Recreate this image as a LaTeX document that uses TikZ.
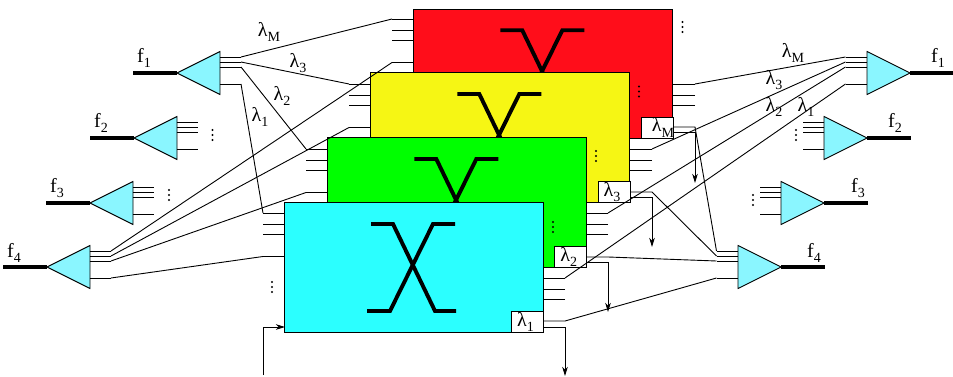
\documentclass[tikz,border=0pt]{standalone}
\usepackage{fontspec}
\setmainfont{Liberation Serif}
\usetikzlibrary{shapes.geometric,arrows.meta}
\definecolor{cred}{HTML}{FF0D1A}
\definecolor{cyel}{HTML}{F6F614}
\definecolor{cgrn}{HTML}{00FF00}
\definecolor{ccya}{HTML}{2BFFFF}
\definecolor{ctri}{HTML}{8AF6FF}
\newcommand{\lab}[2]{#1\raisebox{-0.27em}{\fontsize{14}{14}\selectfont #2}}
\newcommand{\threedots}[2]{\foreach \dd in {-5,0,5}{\fill[black] (#1,#2+\dd) circle (1.2pt);}}
\tikzset{
  thin line/.style={line width=0.9pt,black},
  fibre/.style={line width=3.5pt,black},
  switchbox/.style={draw=black,line width=0.9pt,minimum width=259.5pt,minimum height=129.5pt,inner sep=0pt,outer sep=0pt,anchor=north west},
  lambox/.style={draw=black,fill=white,line width=0.9pt,minimum width=32pt,minimum height=21pt,inner sep=0pt,outer sep=0pt,anchor=south east,font=\fontsize{20}{20}\selectfont},
  tri/.style={draw=black,fill=ctri,line width=0.9pt,isosceles triangle,isosceles triangle stretches,minimum width=43pt,minimum height=43pt,inner sep=0pt,outer sep=0pt,anchor=apex},
  txt/.style={inner sep=0pt,font=\fontsize{20}{20}\selectfont},
  cross/.style={line width=3.9pt,black,line join=miter},
  arr/.style={thin line,-{Stealth[length=9pt,width=5.5pt,inset=2.5pt]}}
}
\begin{document}
\begin{tikzpicture}[x=1pt,y=-1pt]
\useasboundingbox (0,0) rectangle (953,377);
% coordinates for stubs on the switches
\foreach \n/\xl/\xr/\yt/\yo in {R/392/695/19/84, Y/349/652/84/149, G/306/608/149/213, C/263/565/213/278}{
  \pgfmathsetmacro{\xli}{\xl+21.5}\pgfmathsetmacro{\xri}{\xr-22}
  \pgfmathsetmacro{\ya}{\yt}\pgfmathsetmacro{\yb}{\yt+11}\pgfmathsetmacro{\yc}{\yt+21.5}\pgfmathsetmacro{\yd}{\yt+43.5}
  \pgfmathsetmacro{\ye}{\yo}\pgfmathsetmacro{\yf}{\yo+11}\pgfmathsetmacro{\yg}{\yo+21.5}
  \coordinate (\n a) at (\xl,\ya); \coordinate (\n ai) at (\xli,\ya);
  \coordinate (\n b) at (\xl,\yb); \coordinate (\n bi) at (\xli,\yb);
  \coordinate (\n c) at (\xl,\yc); \coordinate (\n ci) at (\xli,\yc);
  \coordinate (\n d) at (\xl,\yd); \coordinate (\n di) at (\xli,\yd);
  \coordinate (\n e) at (\xr,\ye); \coordinate (\n ei) at (\xri,\ye);
  \coordinate (\n f) at (\xr,\yf); \coordinate (\n fi) at (\xri,\yf);
  \coordinate (\n g) at (\xr,\yg); \coordinate (\n gi) at (\xri,\yg);
}
% switch layers, back to front
\foreach \n/\col/\dx/\dy/\lx/\ly/\dotx/\doty/\lam/\off in {
  R/cred/129.3/-193.7/673/138/682.5/27/M/12,
  Y/cyel/86.3/-130/630/202.5/639/91.5/3/-4,
  G/cgrn/43.3/-65/586.7/267.5/596/156/2/-4,
  C/ccya/0/0/543.5/332.2/553/227/1/-4}{
  \pgfmathsetmacro{\bx}{284+\dx}\pgfmathsetmacro{\by}{202.7+\dy}
  \node[switchbox,fill=\col] (box\n) at (\bx,\by) {};
  \begin{scope}[shift={(\dx,\dy)}]
    \draw[cross] (371,224) -- (393,224) -- (435,311) -- (456,311);
    \draw[cross] (367,311) -- (390,311) -- (433,224) -- (455,224);
  \end{scope}
  \draw[thin line] (\n a) -- (\n ai) (\n b) -- (\n bi) (\n c) -- (\n ci) (\n d) -- (\n di);
  \draw[thin line] (\n e) -- (\n ei) (\n f) -- (\n fi) (\n g) -- (\n gi);
  \node[lambox] (lam\n) at (\lx,\ly) {\makebox[0pt]{\hspace{\off pt}\lab{λ}{\lam}}};
  \threedots{\dotx}{\doty}
}
\threedots{272}{287}
% left demultiplexers
\foreach \n/\tx/\ty/\lx/\ly in {1/177/73/144/58, 2/134/138/101/123, 3/90/203/57/188, 4/47/267/14/253}{
  \node[tri,shape border rotate=180] (L\n) at (\tx,\ty) {};
  \pgfmathsetmacro{\bx}{\tx+42.5}\pgfmathsetmacro{\ox}{\tx+64}
  \pgfmathsetmacro{\ya}{\ty-16}\pgfmathsetmacro{\yb}{\ty-11}\pgfmathsetmacro{\yc}{\ty-6}\pgfmathsetmacro{\yd}{\ty+11}
  \coordinate (L\n a) at (\ox,\ya); \coordinate (L\n b) at (\ox,\yb);
  \coordinate (L\n c) at (\ox,\yc); \coordinate (L\n d) at (\ox,\yd);
  \draw[thin line] (\bx,\ya) -- (L\n a) (\bx,\yb) -- (L\n b) (\bx,\yc) -- (L\n c) (\bx,\yd) -- (L\n d);
  \pgfmathsetmacro{\ex}{\tx-44}
  \coordinate (L\n end) at (\ex,\ty);
  \draw[fibre] (L\n.apex) -- (L\n end);
  \node[txt] (Lt\n) at (\lx,\ly) {\lab{f}{\n}};
}
% right multiplexers
\foreach \n/\tx/\ty/\lx/\ly in {1/910/73/938/58, 2/867/138/895/123, 3/824/203/858/188, 4/781/267/814/253}{
  \node[tri,shape border rotate=0] (P\n) at (\tx,\ty) {};
  \pgfmathsetmacro{\bx}{\tx-43}\pgfmathsetmacro{\ox}{\tx-64.5}
  \pgfmathsetmacro{\ya}{\ty-16}\pgfmathsetmacro{\yb}{\ty-11}\pgfmathsetmacro{\yc}{\ty-6}\pgfmathsetmacro{\yd}{\ty+11}
  \coordinate (P\n a) at (\ox,\ya); \coordinate (P\n b) at (\ox,\yb);
  \coordinate (P\n c) at (\ox,\yc); \coordinate (P\n d) at (\ox,\yd);
  \draw[thin line] (\bx,\ya) -- (P\n a) (\bx,\yb) -- (P\n b) (\bx,\yc) -- (P\n c) (\bx,\yd) -- (P\n d);
  \pgfmathsetmacro{\ex}{\tx+44}
  \coordinate (P\n end) at (\ex,\ty);
  \draw[fibre] (P\n.apex) -- (P\n end);
  \node[txt] (Pt\n) at (\lx,\ly) {\lab{f}{\n}};
}
\threedots{212.5}{135}
\threedots{169}{195}
\threedots{796}{135}
\threedots{753}{200}
% connectors, left side
\draw[thin line] (L1a) -- (Ra) (L1b) -- (Ya) (L1c) -- (Ga) (L1d) -- (Ca);
\draw[thin line] (L4a) -- (Rd) (L4b) -- (Yd) (L4c) -- (Gd) (L4d) -- (Cd);
% connectors, right side
\draw[thin line] (Re) -- (P1a) (Ye) -- (P1b) (Ge) -- (P1c) (Ce) -- (P1d);
% outputs of the lambda boxes
\coordinate (MA) at (673,127); \coordinate (MB) at (695,127);
\coordinate (MC) at (673,132); \coordinate (MD) at (695,132); \coordinate (ME) at (695,183);
\coordinate (TA) at (630,192); \coordinate (TB) at (652,192);
\coordinate (TC) at (630,197); \coordinate (TD) at (652,197); \coordinate (TE) at (652,247);
\coordinate (UA) at (586,257); \coordinate (UB) at (608,257);
\coordinate (UC) at (586,262); \coordinate (UD) at (608,262); \coordinate (UE) at (608,312);
\coordinate (VA) at (543,321); \coordinate (VB) at (565,321);
\coordinate (VC) at (543,327); \coordinate (VD) at (565,327); \coordinate (VE) at (565,376);
\draw[thin line] (MA) -- (MB) -- (P4a);
\draw[thin line] (TA) -- (TB) -- (P4b);
\draw[thin line] (UA) -- (UB) -- (P4c);
\draw[thin line] (VA) -- (VB) -- (P4d);
\draw[arr] (MC) -- (MD) -- (ME);
\draw[arr] (TC) -- (TD) -- (TE);
\draw[arr] (UC) -- (UD) -- (UE);
\draw[arr] (VC) -- (VD) -- (VE);
% control input
\coordinate (IA) at (263,375); \coordinate (IB) at (263,327); \coordinate (IC) at (285,327);
\draw[arr] (IA) -- (IB) -- (IC);
% wavelength labels
\node[txt] (a1) at (269,32) {\lab{λ}{M}};
\node[txt] (a2) at (298,63) {\lab{λ}{3}};
\node[txt] (a3) at (282,96) {\lab{λ}{2}};
\node[txt] (a4) at (260,117) {\lab{λ}{1}};
\node[txt] (b1) at (793,53) {\lab{λ}{M}};
\node[txt] (b2) at (774,80) {\lab{λ}{3}};
\node[txt] (b3) at (774,107) {\lab{λ}{2}};
\node[txt] (b4) at (806,107) {\lab{λ}{1}};
\end{tikzpicture}
\end{document}
